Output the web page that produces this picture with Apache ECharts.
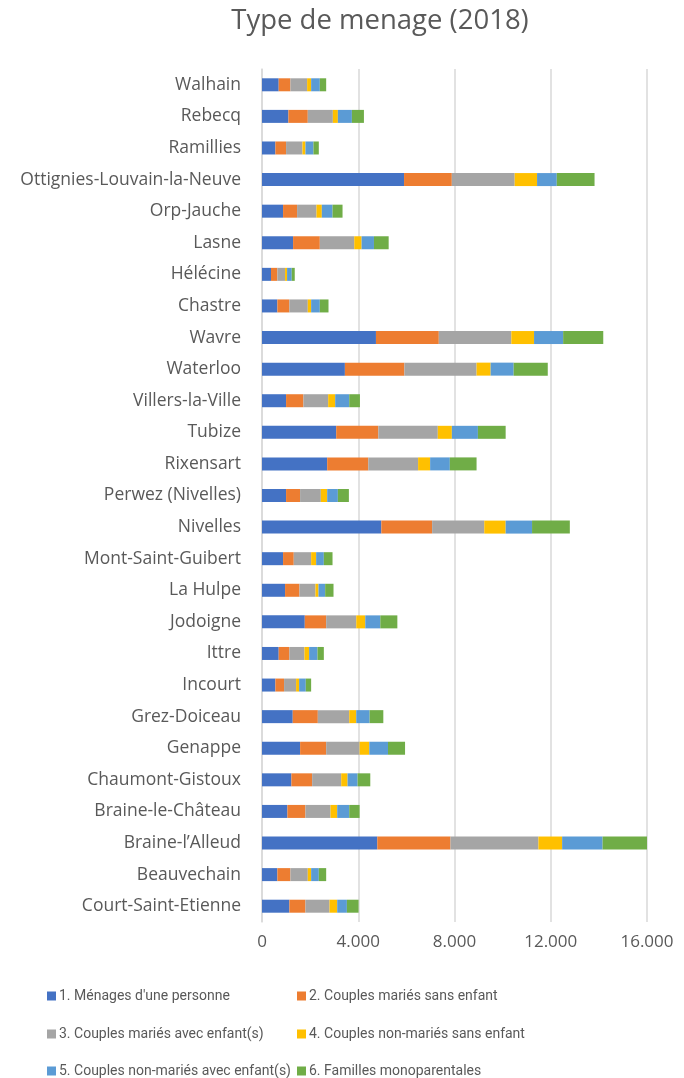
<!DOCTYPE html>
<html>
<head>
<meta charset="utf-8">
<script src="https://cdn.jsdelivr.net/npm/echarts@6/dist/echarts.min.js"></script>
<style>html,body{margin:0;padding:0;background:#fff}#c{width:684px;height:1078px}</style>
</head>
<body>
<div id="c"></div>
<script>
// Categories, bottom to top (ECharts category axis runs upward)
const communes = ["Court-Saint-Etienne","Beauvechain","Braine-l’Alleud","Braine-le-Château","Chaumont-Gistoux","Genappe","Grez-Doiceau","Incourt","Ittre","Jodoigne","La Hulpe","Mont-Saint-Guibert","Nivelles","Perwez (Nivelles)","Rixensart","Tubize","Villers-la-Ville","Waterloo","Wavre","Chastre","Hélécine","Lasne","Orp-Jauche","Ottignies-Louvain-la-Neuve","Ramillies","Rebecq","Walhain"];

const seriesNames = ["1. Ménages d'une personne","2. Couples mariés sans enfant","3. Couples mariés avec enfant(s)","4. Couples non-mariés sans enfant","5. Couples non-mariés avec enfant(s)","6. Familles monoparentales"];

const personneSeule   = [1139,639,4792,1056,1222,1584,1278,556,694,1778,958,875,4959,1000,2709,3084,1000,3445,4736,639,375,1292,875,5903,556,1097,694];
const mariesSansEnf   = [667,542,3042,750,862,1083,1042,361,445,889,598,445,2111,583,1708,1750,722,2472,2612,500,264,1111,583,1986,444,806,487];
const mariesAvecEnf   = [1000,722,3653,1041,1208,1389,1305,500,625,1250,666,722,2167,862,2070,2472,1028,3000,3014,764,319,1431,806,2612,681,1042,694];
const nonMariesSans   = [319,139,986,278,264,403,292,125,194,375,125,208,889,264,500,584,292,584,944,139,84,305,222,930,125,208,167];
const nonMariesAvec   = [403,319,1681,500,417,778,556,278,348,625,278,320,1097,444,819,1083,583,958,1209,361,194,514,445,820,333,583,361];
const monoparentales  = [486,306,1917,431,527,708,569,222,264,708,347,361,1570,458,1111,1153,445,1417,1667,361,125,611,416,1569,222,500,264];

const xTicks = [0,4000,8000,12000,16000];
const colors = ["#4472c4","#ed7d31","#a5a5a5","#ffc000","#5b9bd5","#70ad47"];

const values = [personneSeule, mariesSansEnf, mariesAvecEnf, nonMariesSans, nonMariesAvec, monoparentales];
const FONT = "Open Sans";
const chart = echarts.init(document.getElementById('c'), null, {renderer:'canvas'});
const fmt = v => v === 0 ? "0" : String(v).replace(/\B(?=(\d{3})+(?!\d))/g, ".");

// legend grid: 2 columns x 3 rows
const legendPos = [[42,984],[292,984],[42,1022],[292,1022],[42,1059],[292,1059]];
const legends = seriesNames.map((n, i) => ({
  left: legendPos[i][0], top: legendPos[i][1],
  data: [n], icon: 'rect', itemWidth: 9, itemHeight: 9,
  textStyle: {fontFamily: 'Roboto', fontSize: 14, color: '#595959', padding: [0,0,0,-2]},
  selectedMode: false
}));

chart.setOption({
  animation: false,
  color: colors,
  title: {
    text: 'Type de menage (2018)', left: 375, top: 2, textAlign: 'center',
    textStyle: {fontFamily: FONT, fontSize: 27.5, fontWeight: 'normal', color: '#595959'}
  },
  legend: legends,
  grid: {left: 262, right: 37, top: 69, height: 853, containLabel: false},
  xAxis: {
    type: 'value', min: xTicks[0], max: xTicks[xTicks.length-1], interval: 4000,
    axisLine: {show: false}, axisTick: {show: false},
    splitLine: {show: true, lineStyle: {color: '#d9d9d9', width: 1.5}},
    axisLabel: {fontFamily: FONT, fontSize: 17, color: '#595959', margin: 12, formatter: fmt}
  },
  yAxis: {
    type: 'category', data: communes,
    axisLine: {show: true, lineStyle: {color: '#d9d9d9', width: 1.5}},
    axisTick: {show: false},
    axisLabel: {fontFamily: FONT, fontSize: 17.5, color: '#595959', margin: 21}
  },
  series: seriesNames.map((n, i) => ({
    name: n, type: 'bar', stack: 'total', data: values[i], barWidth: 13,
    itemStyle: {color: colors[i]}
  }))
});
</script>
</body>
</html>
